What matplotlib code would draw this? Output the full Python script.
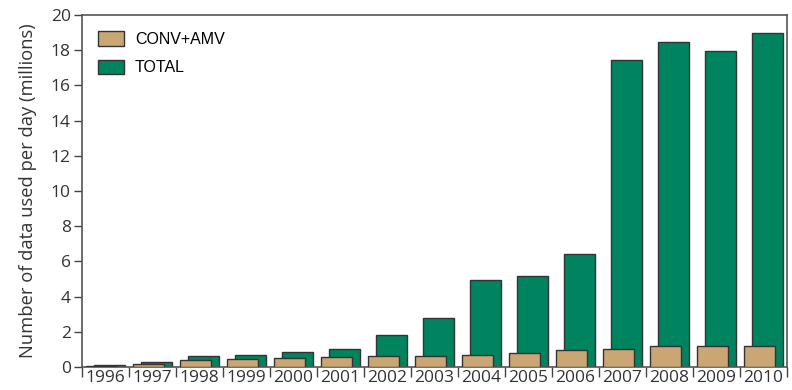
import matplotlib.pyplot as plt
import numpy as np

plt.rcParams['font.family'] = ['Open Sans', 'DejaVu Sans']

years = ['1996', '1997', '1998', '1999', '2000', '2001', '2002', '2003',
         '2004', '2005', '2006', '2007', '2008', '2009', '2010']
conv_amv = [0.08, 0.15, 0.37, 0.44, 0.5, 0.58, 0.65, 0.6,
            0.68, 0.78, 0.95, 1.05, 1.2, 1.2, 1.2]
total = [0.1, 0.28, 0.6, 0.7, 0.87, 1.02, 1.83, 2.8,
         4.94, 5.17, 6.4, 17.45, 18.45, 17.95, 18.95]

green = '#00835f'
tan = '#c9a673'
edge = '#333333'

x = np.arange(len(years))
w = 0.66

fig = plt.figure(figsize=(7.92, 3.9), dpi=100)
ax = fig.add_axes([0.1035, 0.059, 0.8902, 0.9025])

ax.bar(x + 0.095, total, width=w, color=green, edgecolor=edge, linewidth=1.0, label='TOTAL', zorder=2)
ax.bar(x - 0.085, conv_amv, width=w, color=tan, edgecolor=edge, linewidth=1.0, label='CONV+AMV', zorder=3)

ax.set_xlim(-0.5, len(years) - 0.5)
ax.set_ylim(0, 20)
ax.set_yticks(np.arange(0, 21, 2))
ax.set_xticks(x)
ax.set_xticklabels(years)
ax.set_xticks(np.arange(-0.5, len(years), 1), minor=True)
ax.tick_params(axis='x', which='major', length=0, labelsize=12.5, pad=2, colors='#333333')
ax.tick_params(axis='x', which='minor', length=7, width=1, color='#444444')
ax.tick_params(axis='y', length=6, width=1, labelsize=12.5, color='#444444', labelcolor='#333333', pad=2)

for s in ax.spines.values():
    s.set_color('#555555')
    s.set_linewidth(1.2)

ax.set_ylabel('Number of data used per day (millions)', fontsize=13.2, color='#333333', labelpad=10)

h, l = ax.get_legend_handles_labels()
ax.legend(h[::-1], l[::-1], loc='upper left', frameon=False,
          prop={'family': 'Liberation Sans', 'size': 11.5},
          handlelength=1.6, handleheight=1.0, handletextpad=0.7, labelspacing=0.8,
          borderaxespad=0.3, bbox_to_anchor=(0.007, 0.985))

fig.savefig('out.png', dpi=100)
